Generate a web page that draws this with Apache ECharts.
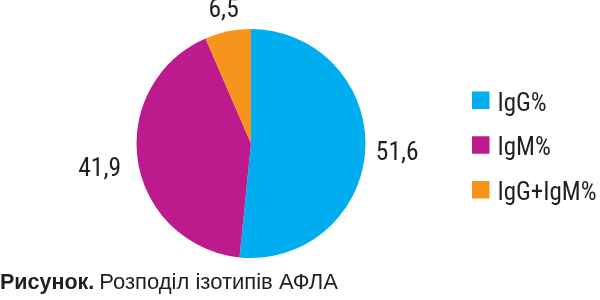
<!DOCTYPE html>
<html><head><meta charset="utf-8">
<script src="https://cdn.jsdelivr.net/npm/echarts@6/dist/echarts.min.js"></script>
<style>html,body{margin:0;padding:0;background:#fff}#c{width:600px;height:300px}</style>
</head><body><div id="c"></div>
<script>
const categories = ['IgG%', 'IgM%', 'IgG+IgM%'];
const values = [51.6, 41.9, 6.5];
const colors = ['#00AEEF', '#BD1A8D', '#F7941D'];
const NARROW = '"Roboto Condensed", "Liberation Sans Narrow", "Liberation Sans", Arial, sans-serif';
const WIDE = '"Liberation Sans", Arial, sans-serif';
const TXT = '#231F20';
// per-slice label tuning (radial line length, vertical nudge, alignment)
const labelLen = [10.5, 17, 20.5];
const labelDy = [4, 6, -3];
const labelAlign = [null, null, 'center'];

const chart = echarts.init(document.getElementById('c'), null, {renderer: 'canvas'});
chart.setOption({
  animation: false,
  backgroundColor: '#fff',
  title: {
    left: 0, top: 272, padding: 0,
    text: '{b|Рисунок.} {r|Розподіл ізотипів АФЛА}',
    textStyle: {
      rich: {
        b: {fontFamily: WIDE, fontWeight: 'bold', fontSize: 21.5, color: TXT},
        r: {fontFamily: WIDE, fontWeight: 'normal', fontSize: 22, color: TXT}
      }
    }
  },
  legend: {
    orient: 'vertical', left: 472, top: 91.5, padding: 0,
    icon: 'rect', itemWidth: 17.5, itemHeight: 17.5, itemGap: 19.5,
    formatter: '{t|{name}}',
    textStyle: {
      fontFamily: NARROW, fontSize: 25, color: TXT,
      rich: {t: {fontFamily: NARROW, fontSize: 25, color: TXT, padding: [8, 0, 0, 3]}}
    },
    data: categories
  },
  series: [{
    type: 'pie',
    center: [251, 143.5], radius: 114.5,
    startAngle: 90, clockwise: true,
    label: {
      show: true, position: 'outside', distanceToLabelLine: 0,
      formatter: p => String(p.value).replace('.', ','),
      fontFamily: NARROW, fontSize: 25.5, color: TXT
    },
    labelLine: {show: false, length: 10, length2: 0},
    labelLayout: p => {
      const o = {dy: labelDy[p.dataIndex]};
      if (labelAlign[p.dataIndex]) o.align = labelAlign[p.dataIndex];
      return o;
    },
    itemStyle: {borderWidth: 0},
    emphasis: {disabled: true},
    data: categories.map((c, i) => ({
      name: c, value: values[i],
      itemStyle: {color: colors[i]},
      labelLine: {length: labelLen[i], length2: 0}
    }))
  }]
});
</script></body></html>
